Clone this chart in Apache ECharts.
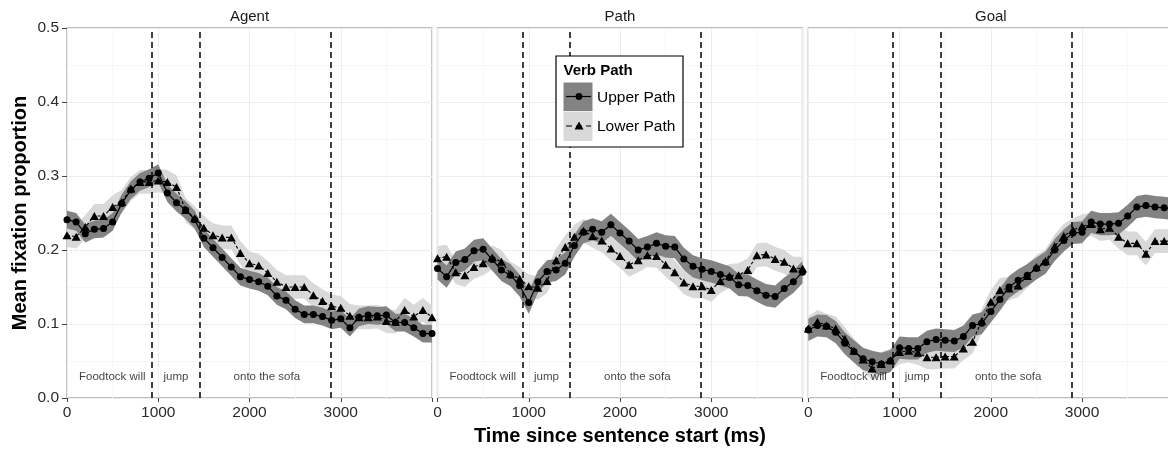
<!DOCTYPE html>
<html>
<head>
<meta charset="utf-8">
<script src="https://cdn.jsdelivr.net/npm/echarts@6/dist/echarts.min.js"></script>
<style>
html,body{margin:0;padding:0;background:#fff;}
#chart{width:1168px;height:453px;}
</style>
</head>
<body>
<div id="chart"></div>
<script>
// ---------------- data ----------------
const TIME = [0,100,200,300,400,500,600,700,800,900,1000,1100,1200,1300,1400,1500,1600,1700,1800,1900,2000,
              2100,2200,2300,2400,2500,2600,2700,2800,2900,3000,3100,3200,3300,3400,3500,3600,3700,3800,3900,4000];

const PANELS = ['Agent', 'Path', 'Goal'];
const SERIES_NAMES = ['Upper Path', 'Lower Path'];

const AGENT_UPPER = [0.241,0.238,0.222,0.228,0.229,0.238,0.263,0.281,0.292,0.297,0.304,0.277,0.264,0.254,0.241,0.216,0.203,0.190,0.177,0.164,
                     0.160,0.157,0.151,0.138,0.132,0.120,0.113,0.113,0.110,0.105,0.107,0.095,0.109,0.112,0.111,0.112,0.102,0.102,0.095,0.087,0.087];
const AGENT_LOWER = [0.220,0.218,0.231,0.246,0.246,0.258,0.265,0.283,0.292,0.292,0.294,0.292,0.285,0.254,0.243,0.230,0.220,0.217,0.217,0.196,
                     0.182,0.179,0.169,0.157,0.150,0.150,0.150,0.139,0.131,0.124,0.122,0.111,0.109,0.109,0.110,0.104,0.103,0.119,0.110,0.119,0.109];
const PATH_UPPER  = [0.175,0.164,0.183,0.187,0.199,0.201,0.187,0.173,0.166,0.152,0.129,0.157,0.171,0.173,0.182,0.206,0.224,0.228,0.224,0.234,
                     0.223,0.212,0.200,0.204,0.209,0.205,0.204,0.188,0.178,0.174,0.171,0.167,0.163,0.153,0.152,0.145,0.139,0.137,0.148,0.157,0.170];
const PATH_LOWER  = [0.189,0.191,0.170,0.166,0.177,0.182,0.190,0.184,0.168,0.161,0.151,0.149,0.158,0.186,0.204,0.218,0.226,0.219,0.213,0.202,
                     0.192,0.180,0.186,0.193,0.192,0.180,0.170,0.156,0.151,0.151,0.146,0.158,0.165,0.166,0.173,0.193,0.194,0.188,0.184,0.175,0.175];
const GOAL_UPPER  = [0.092,0.098,0.097,0.089,0.074,0.063,0.053,0.049,0.046,0.050,0.068,0.067,0.067,0.076,0.079,0.078,0.077,0.083,0.098,0.101,
                     0.117,0.133,0.150,0.159,0.166,0.175,0.183,0.200,0.213,0.223,0.224,0.238,0.235,0.235,0.236,0.246,0.258,0.260,0.258,0.257,0.255];
const GOAL_LOWER  = [0.094,0.103,0.098,0.094,0.080,0.064,0.052,0.040,0.046,0.051,0.062,0.064,0.061,0.055,0.055,0.056,0.056,0.067,0.076,0.104,
                     0.130,0.146,0.148,0.152,0.165,0.177,0.185,0.205,0.219,0.227,0.232,0.235,0.228,0.230,0.218,0.209,0.209,0.195,0.212,0.212,0.212];

// half-width of the confidence ribbons [upper, lower], per panel
const AGENT_BAND = [0.012, 0.016];
const PATH_BAND  = [0.015, 0.016];
const GOAL_BAND  = [0.015, 0.016];

// word onsets (dashed lines) and word labels
const WORD_ONSETS = [930, 1450, 2890];
const WORD_LABELS = ['Foodtock will', 'jump', 'onto the sofa'];
const WORD_LABEL_X = [496, 1194, 2190];
const WORD_LABEL_Y = 0.028;

const X_TICKS = [0, 1000, 2000, 3000];
const Y_TICKS = [0.0, 0.1, 0.2, 0.3, 0.4, 0.5];

const Y_TITLE = 'Mean fixation proportion';
const X_TITLE = 'Time since sentence start (ms)';
const LEGEND_TITLE = 'Verb Path';

// ---------------- chart ----------------
const FONT = 'Liberation Sans, Arial, sans-serif';
const DARK = '#838383';
const LIGHT = '#d9d9d9';

const PANEL_DATA = [
  [AGENT_UPPER, AGENT_LOWER, AGENT_BAND],
  [PATH_UPPER, PATH_LOWER, PATH_BAND],
  [GOAL_UPPER, GOAL_LOWER, GOAL_BAND]
];

const LEFTS = [67, 437.5, 808.3];
const TOP = 28, W = 365, H = 370;

const grids = LEFTS.map(l => ({
  left: l, top: TOP, width: W, height: H,
  outerBoundsMode: 'none', containLabel: false,
  show: true, borderColor: '#a9a9a9', borderWidth: 1.3, backgroundColor: '#fff'
}));

const xAxes = LEFTS.map((l, i) => ({
  gridIndex: i, type: 'value', min: 0, max: 4000, interval: 1000,
  axisLine: { show: false },
  axisTick: { show: true, length: 4, lineStyle: { color: '#444', width: 1 } },
  axisLabel: { fontSize: 15.5, color: '#2a2a2a', margin: 7, fontFamily: FONT,
               formatter: v => X_TICKS.indexOf(v) >= 0 ? String(v) : '' },
  splitLine: { show: true, lineStyle: { color: '#ececec', width: 1 } },
  minorTick: { show: false, splitNumber: 2 },
  minorSplitLine: { show: true, lineStyle: { color: '#f7f7f7', width: 1 } }
}));

const yAxes = LEFTS.map((l, i) => ({
  gridIndex: i, type: 'value', min: 0, max: 0.5, interval: 0.1,
  axisLine: { show: false },
  axisTick: { show: i === 0, length: 5, lineStyle: { color: '#444', width: 1 } },
  axisLabel: { show: i === 0, fontSize: 15.5, color: '#2a2a2a', margin: 8, fontFamily: FONT,
               formatter: v => v.toFixed(1) },
  splitLine: { show: true, lineStyle: { color: '#ececec', width: 1 } },
  minorTick: { show: false, splitNumber: 2 },
  minorSplitLine: { show: true, lineStyle: { color: '#f7f7f7', width: 1 } }
}));

// ribbon drawn as one polygon through the axes' own scales
function ribbonSeries(i, values, half, color) {
  const data = TIME.map((t, k) => [t, values[k] - half, values[k] + half]);
  return {
    type: 'custom', xAxisIndex: i, yAxisIndex: i, z: 1, silent: true, clip: true,
    encode: { x: 0, y: [1, 2] },
    data: data,
    renderItem: function (params, api) {
      if (params.dataIndex !== 0) return null;
      const top = [], bot = [];
      data.forEach(d => {
        top.push(api.coord([d[0], d[2]]));
        bot.push(api.coord([d[0], d[1]]));
      });
      const pts = top.concat(bot.reverse());
      return { type: 'polygon', shape: { points: pts }, style: { fill: color, stroke: null } };
    }
  };
}

const series = [];
PANEL_DATA.forEach(([up, lo, band], i) => {
  const common = { xAxisIndex: i, yAxisIndex: i, animation: false, silent: true };
  series.push(ribbonSeries(i, lo, band[1], LIGHT));
  series.push(ribbonSeries(i, up, band[0], DARK));
  // dashed word onsets
  series.push(Object.assign({}, common, {
    type: 'line', data: [], z: 2,
    markLine: {
      silent: true, symbol: ['none', 'none'], animation: false,
      label: { show: false },
      lineStyle: { color: '#000', type: [6, 4], width: 1.5 },
      data: WORD_ONSETS.map(x => ({ xAxis: x }))
    }
  }));
  // lower path line
  series.push(Object.assign({}, common, {
    type: 'line', name: SERIES_NAMES[1], z: 3,
    symbol: 'triangle', symbolSize: [9, 8], showSymbol: true, showAllSymbol: true,
    itemStyle: { color: '#000' },
    lineStyle: { color: '#000', width: 1.1, type: [3, 2] },
    data: TIME.map((t, k) => [t, lo[k]])
  }));
  // upper path line
  series.push(Object.assign({}, common, {
    type: 'line', name: SERIES_NAMES[0], z: 3,
    symbol: 'circle', symbolSize: 7, showSymbol: true, showAllSymbol: true,
    itemStyle: { color: '#000' },
    lineStyle: { color: '#000', width: 1.2 },
    data: TIME.map((t, k) => [t, up[k]])
  }));
  // word labels
  series.push(Object.assign({}, common, {
    type: 'scatter', z: 4, symbolSize: 0,
    label: { show: true, position: 'inside', fontSize: 11.5, color: '#111', fontFamily: FONT,
             formatter: p => p.data[2] },
    data: WORD_LABEL_X.map((x, k) => [x, WORD_LABEL_Y, WORD_LABELS[k]])
  }));
});

const graphics = [];
// strip titles
PANELS.forEach((p, i) => {
  graphics.push({ type: 'text', x: LEFTS[i] + W / 2, y: 17, silent: true,
    style: { text: p, fontSize: 15, fontFamily: FONT, fill: '#1a1a1a', align: 'center', verticalAlign: 'middle' } });
});
// axis titles
graphics.push({ type: 'text', x: 20, y: 213, rotation: Math.PI / 2, silent: true,
  style: { text: Y_TITLE, fontSize: 20, fontWeight: 'bold', fontFamily: FONT, fill: '#000', align: 'center', verticalAlign: 'middle' } });
graphics.push({ type: 'text', x: 620, y: 436, silent: true,
  style: { text: X_TITLE, fontSize: 20, fontWeight: 'bold', fontFamily: FONT, fill: '#000', align: 'center', verticalAlign: 'middle' } });
// legend
graphics.push({ type: 'rect', shape: { x: 556, y: 56, width: 127, height: 91 }, z: 10, silent: true,
  style: { fill: '#fff', stroke: '#000', lineWidth: 1.2 } });
graphics.push({ type: 'text', x: 563.5, y: 71, z: 11, silent: true,
  style: { text: LEGEND_TITLE, fontSize: 15, fontWeight: 'bold', fontFamily: FONT, fill: '#000', verticalAlign: 'middle' } });
graphics.push({ type: 'rect', shape: { x: 563.5, y: 82.5, width: 29, height: 28.5 }, z: 11, silent: true,
  style: { fill: DARK } });
graphics.push({ type: 'rect', shape: { x: 563.5, y: 111.5, width: 29, height: 29.5 }, z: 11, silent: true,
  style: { fill: LIGHT } });
graphics.push({ type: 'line', shape: { x1: 566, y1: 96.5, x2: 591, y2: 96.5 }, z: 12, silent: true,
  style: { stroke: '#000', lineWidth: 1.2 } });
graphics.push({ type: 'circle', shape: { cx: 579, cy: 96.5, r: 3.4 }, z: 12, silent: true,
  style: { fill: '#000' } });
graphics.push({ type: 'line', shape: { x1: 566, y1: 126, x2: 591, y2: 126 }, z: 12, silent: true,
  style: { stroke: '#000', lineWidth: 1.2, lineDash: [6, 4] } });
graphics.push({ type: 'polygon', shape: { points: [[579, 121.5], [583.5, 129.5], [574.5, 129.5]] }, z: 12, silent: true,
  style: { fill: '#000' } });
graphics.push({ type: 'text', x: 597, y: 97.5, z: 12, silent: true,
  style: { text: SERIES_NAMES[0], fontSize: 15.5, fontFamily: FONT, fill: '#000', verticalAlign: 'middle' } });
graphics.push({ type: 'text', x: 597, y: 126.5, z: 12, silent: true,
  style: { text: SERIES_NAMES[1], fontSize: 15.5, fontFamily: FONT, fill: '#000', verticalAlign: 'middle' } });

const chart = echarts.init(document.getElementById('chart'), null, { renderer: 'canvas' });
chart.setOption({
  animation: false,
  backgroundColor: '#fff',
  textStyle: { fontFamily: FONT },
  grid: grids,
  xAxis: xAxes,
  yAxis: yAxes,
  series: series,
  graphic: graphics
});
</script>
</body>
</html>
